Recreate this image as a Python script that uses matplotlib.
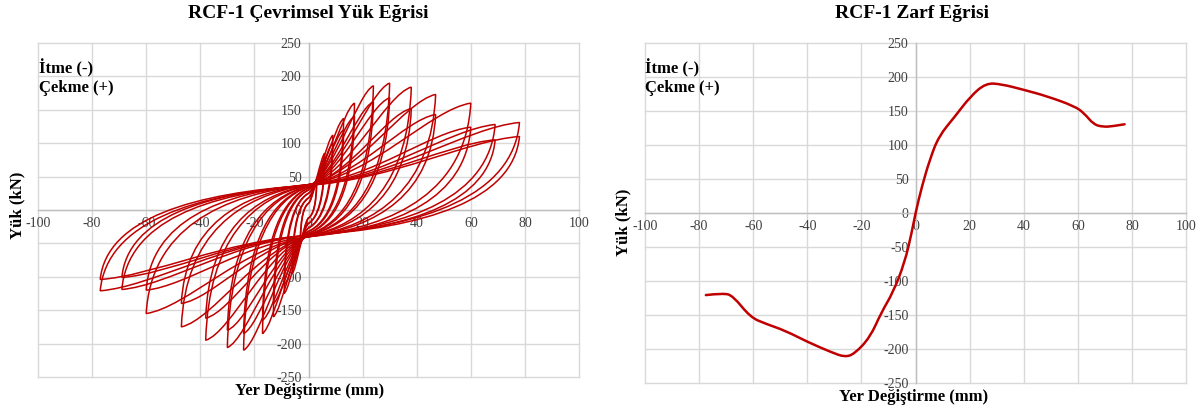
import matplotlib.pyplot as plt
from matplotlib.path import Path
from matplotlib.patches import PathPatch

plt.rcParams['axes.unicode_minus'] = False

# cyclic test - peak points of each amplitude (1st and 2nd cycle)
amp_pos = [3, 6, 9, 13, 17, 24, 30, 38, 47, 60, 69, 78]
load_pos_1 = [45, 85, 112, 137, 160, 186, 190, 184, 173, 160, 128, 131]
load_pos_2 = [40, 75, 100, 120, 140, 162, 168, 152, 143, 124, 105, 110]
amp_neg = [-3, -6, -9, -13, -17, -24, -30, -38, -47, -60, -69, -77]
load_neg_1 = [-50, -95, -125, -160, -185, -210, -206, -195, -175, -155, -119, -121]
load_neg_2 = [-45, -85, -112, -140, -165, -185, -180, -162, -140, -120, -101, -104]
# load where the curve crosses zero displacement (reloading / unloading)
cross_top = [10, 18, 25, 30, 33, 35, 36, 37, 38, 38, 37, 37]
cross_bot = [-12, -20, -27, -32, -35, -37, -38, -39, -40, -40, -38, -38]

# envelope curve
env_disp = [-77.5, -71, -67.5, -61, -55.3, -48.2, -39.7, -31.1, -26.1, -22.5, -16.8, -12.6,
            -8.3, -4, -1.4, 0, 2.4, 5.3, 8.6, 14.6, 20.3, 26, 31.7, 40.2, 48.8, 58.8,
            62.3, 65.9, 69.5, 73, 77.3]
env_load = [-120.7, -117.8, -121.7, -153.5, -163, -173, -190, -204.8, -212, -207, -182.8, -146,
            -116.8, -72.8, -28.8, 0, 39.6, 78.7, 112.9, 142, 171.5, 191, 189.6, 181, 171.5, 157,
            147, 130, 126.6, 127.6, 130.5]

RED = '#c00000'
SERIF = 'Liberation Serif'


def half_loop(c0, d, p, c1):
    # loading from (0, c0) to peak (d, p), then unloading back to (0, c1)
    return [(0.4 * d, c0 + 0.12 * (p - c0)), (0.75 * d, c0 + 0.92 * (p - c0)), (d, p),
            (0.97 * d, p - 0.65 * (p - c1)), (0.55 * d, c1 + 0.08 * (p - c1)), (0, c1)]


def loop_path(dp, pp, dn, pn, cb, ca):
    verts = [(0, cb)] + half_loop(cb, dp, pp, ca) + half_loop(ca, dn, pn, cb)
    codes = [Path.MOVETO] + [Path.CURVE4] * 12
    return Path(verts, codes)


def smooth_path(xs, ys):
    # quadratic curve through the midpoints, bent by the data points (like a smoothed line)
    pts = list(zip(xs, ys))
    verts = [pts[0]]
    codes = [Path.MOVETO]
    for i in range(1, len(pts) - 1):
        mid = ((pts[i][0] + pts[i + 1][0]) / 2, (pts[i][1] + pts[i + 1][1]) / 2)
        if i == len(pts) - 2:
            mid = pts[-1]
        verts += [pts[i], mid]
        codes += [Path.CURVE3, Path.CURVE3]
    return Path(verts, codes)


def style_axes(ax):
    ax.set_xlim(-100, 100)
    ax.set_ylim(-250, 250)
    ax.set_xticks(range(-100, 101, 20))
    ax.set_yticks(range(-250, 251, 50))
    ax.spines['left'].set_position('zero')
    ax.spines['bottom'].set_position('zero')
    ax.spines['top'].set_visible(False)
    ax.spines['right'].set_visible(False)
    for s in ['left', 'bottom']:
        ax.spines[s].set_color('#bfbfbf')
        ax.spines[s].set_linewidth(1.0)
    ax.grid(True, color='#d9d9d9', linewidth=1.0)
    ax.set_axisbelow(True)
    ax.tick_params(length=0, labelsize=10, labelcolor='#404040', pad=5)
    for lab in ax.get_xticklabels() + ax.get_yticklabels():
        lab.set_fontfamily(SERIF)
    for gl in ax.get_xgridlines() + ax.get_ygridlines():
        gl.set_clip_on(False)


fig = plt.figure(figsize=(12.04, 4.09), dpi=100)
W, H = 1204, 409

ax1 = fig.add_axes([38 / W, 1 - 377 / H, (579 - 38) / W, (377 - 43) / H])
ax2 = fig.add_axes([645 / W, 1 - 383 / H, (1186 - 645) / W, (383 - 43) / H])

for ax in (ax1, ax2):
    style_axes(ax)

# hysteresis loops
for i in range(len(amp_pos)):
    for pp, pn in [(load_pos_1[i], load_neg_1[i]), (load_pos_2[i], load_neg_2[i])]:
        p = loop_path(amp_pos[i], pp, amp_neg[i], pn, cross_top[i], cross_bot[i])
        ax1.add_patch(PathPatch(p, fill=False, edgecolor=RED, linewidth=1.1, zorder=3))

# envelope
ax2.add_patch(PathPatch(smooth_path(env_disp, env_load), fill=False, edgecolor=RED,
                        linewidth=1.8, zorder=3, capstyle='round', joinstyle='round'))

# titles and labels
fig.text(308 / W, 1 - 14 / H, 'RCF-1 Çevrimsel Yük Eğrisi', family=SERIF, fontweight='bold',
         fontsize=14, ha='center', va='center')
fig.text(912 / W, 1 - 14 / H, 'RCF-1 Zarf Eğrisi', family=SERIF, fontweight='bold',
         fontsize=14, ha='center', va='center')
fig.text(310 / W, 1 - 391 / H, 'Yer Değiştirme (mm)', family=SERIF, fontweight='bold',
         fontsize=12, ha='center', va='center')
fig.text(914 / W, 1 - 397 / H, 'Yer Değiştirme (mm)', family=SERIF, fontweight='bold',
         fontsize=12, ha='center', va='center')
fig.text(17 / W, 1 - 205 / H, 'Yük (kN)', family=SERIF, fontweight='bold',
         fontsize=12, ha='center', va='center', rotation=90)
fig.text(623 / W, 1 - 222 / H, 'Yük (kN)', family=SERIF, fontweight='bold',
         fontsize=12, ha='center', va='center', rotation=90)

for x0 in (39, 645):
    fig.text(x0 / W, 1 - 68 / H, 'İtme (-)', family=SERIF, fontweight='bold',
             fontsize=12, ha='left', va='center')
    fig.text(x0 / W, 1 - 88 / H, 'Çekme (+)', family=SERIF, fontweight='bold',
             fontsize=12, ha='left', va='center')

fig.savefig('out.png', dpi=100)
